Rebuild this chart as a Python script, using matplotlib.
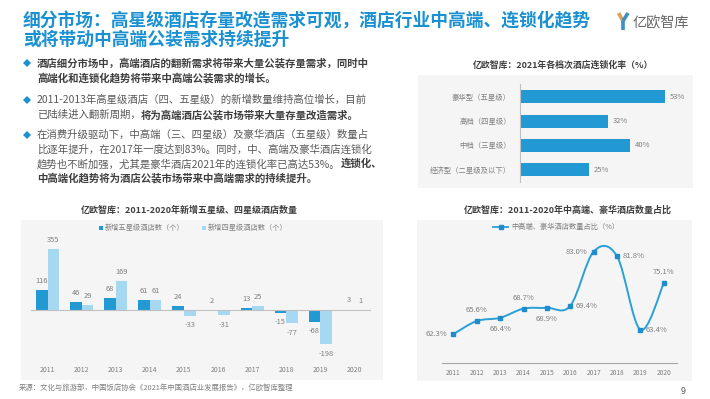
import matplotlib
matplotlib.use("Agg")
import matplotlib.pyplot as plt
import numpy as np
from matplotlib.path import Path
from matplotlib.patches import PathPatch, Rectangle

plt.rcParams['font.family'] = ['Noto Sans CJK SC', 'DejaVu Sans']

# ---------------- data ----------------
years = ['2011', '2012', '2013', '2014', '2015', '2016', '2017', '2018', '2019', '2020']
new_five_star = [116, 46, 68, 61, 24, 2, 13, -15, -68, 3]
new_four_star = [355, 29, 169, 61, -33, -31, 25, -77, -198, 1]
share_mid_high = [62.3, 65.6, 66.4, 68.7, 68.9, 69.4, 83.0, 81.8, 63.4, 75.1]
chain_categories = ['豪华型（五星级）', '高档（四星级）', '中档（三星级）', '经济型（二星级及以下）']
chain_rates = [53, 32, 40, 25]

title_lines = ['细分市场：高星级酒店存量改造需求可观，酒店行业中高端、连锁化趋势',
               '或将带动中高端公装需求持续提升']
bullets = [
    [[('酒店细分市场中，高端酒店的翻新需求将带来大量公装存量需求，同时中', True)],
     [('高端化和连锁化趋势将带来中高端公装需求的增长。', True)]],
    [[('2011-2013年高星级酒店（四、五星级）的新增数量维持高位增长，目前', False)],
     [('已陆续进入翻新周期，', False), ('将为高端酒店公装市场带来大量存量改造需求。', True)]],
    [[('在消费升级驱动下，中高端（三、四星级）及豪华酒店（五星级）数量占', False)],
     [('比逐年提升，在2017年一度达到83%。同时，中、高端及豪华酒店连锁化', False)],
     [('趋势也不断加强，尤其是豪华酒店2021年的连锁化率已高达53%。', False), ('连锁化、', True)],
     [('中高端化趋势将为酒店公装市场带来中高端需求的持续提升。', True)]],
]
chart1_title = '亿欧智库：2021年各档次酒店连锁化率（%）'
chart2_title = '亿欧智库：2011-2020年新增五星级、四星级酒店数量'
chart3_title = '亿欧智库：2011-2020年中高端、豪华酒店数量占比'
legend2 = ['新增五星级酒店数（个）', '新增四星级酒店数（个）']
legend3 = '中高端、豪华酒店数量占比（%）'
source_text = '来源：文化与旅游部，中国饭店协会《2021年中国酒店业发展报告》，亿欧智库整理'
logo_text = '亿欧智库'
page_no = '9'

# ---------------- styles ----------------
W, H = 710, 399
BLUE = '#1c91d2'
DARK_BAR = '#2399d4'
LIGHT_BAR = '#a7d8f1'
GRAY_TXT = '#7f7f7f'
BODY = '#595959'
BOLD = '#3f3f3f'
PANEL = '#f5f5f5'

fig = plt.figure(figsize=(W / 100, H / 100), dpi=100)
fig.patch.set_facecolor('white')

# overlay axes in pixel coordinates
ov = fig.add_axes([0, 0, 1, 1], zorder=-1)
ov.set_xlim(0, W)
ov.set_ylim(H, 0)
ov.axis('off')


def px_axes(l, t, r, b):
    ax = fig.add_axes([l / W, 1 - b / H, (r - l) / W, (b - t) / H])
    ax.patch.set_alpha(0)
    return ax


# panels
for (l, t, r, b) in [(418, 75, 693, 188), (21, 220, 383, 380), (417, 220, 692, 381)]:
    ov.add_patch(Rectangle((l, t), r - l, b - t, facecolor=PANEL, edgecolor='none'))

# title
for i, line in enumerate(title_lines):
    ov.text(23, 21 + i * 19, line, fontsize=12.8, fontweight='bold', color=BLUE,
            ha='left', va='center')

# logo
ov.plot([618.5, 623], [13, 21], color='#d9a35e', lw=2.6, solid_capstyle='butt')
ov.plot([628, 623], [13, 21], color='#3f8fc6', lw=2.6, solid_capstyle='butt')
ov.plot([623, 623], [21, 30], color='#3f8fc6', lw=2.6, solid_capstyle='butt')
ov.text(633, 22, logo_text, fontsize=10.2, fontweight='light', color='#666666',
        ha='left', va='center')

# bullets text
renderer = fig.canvas.get_renderer()
bullet_y = [[63, 78], [100, 115], [135, 150, 164, 178]]
for bl, ys in zip(bullets, bullet_y):
    ov.plot(27, ys[0], marker='D', markersize=4.2, color=BLUE, markeredgewidth=0)
    for parts, y in zip(bl, ys):
        cx = 37
        for txt, bold in parts:
            t = ov.text(cx, y, txt, fontsize=7.5, fontweight='bold' if bold else 'normal',
                        color=BOLD if bold else BODY, ha='left', va='center')
            bb = t.get_window_extent(renderer=renderer)
            cx += bb.width

# ---------------- chart 1: horizontal bars ----------------
ov.text(563.5, 65, chart1_title, fontsize=6.4, fontweight='bold', color=BOLD,
        ha='center', va='center')
ax1 = px_axes(520, 84, 690, 182)
ypos = np.arange(len(chain_categories))
ax1.barh(ypos, chain_rates, height=0.53, color=DARK_BAR)
ax1.set_xlim(0, 62)
ax1.set_ylim(3.5, -0.52)
ax1.set_yticks(ypos)
ax1.set_yticklabels(chain_categories, fontsize=5.3, color=GRAY_TXT)
ax1.tick_params(axis='y', length=0, pad=6.5)
ax1.set_xticks([])
for s in ['top', 'right', 'bottom']:
    ax1.spines[s].set_visible(False)
ax1.spines['left'].set_color('#bfbfbf')
ax1.spines['left'].set_linewidth(0.8)
for yv, v in zip(ypos, chain_rates):
    ax1.annotate(f'{v}%', (v, yv), xytext=(3.5, 0), textcoords='offset points',
                 fontsize=5.5, color=GRAY_TXT, ha='left', va='center')

# ---------------- chart 2: grouped bars ----------------
ov.text(189.7, 210, chart2_title, fontsize=6.5, fontweight='bold', color=BOLD,
        ha='center', va='center')
ov.add_patch(Rectangle((99, 226), 4, 4, facecolor=DARK_BAR, edgecolor='none'))
ov.text(105, 228, legend2[0], fontsize=5.2, color=GRAY_TXT, ha='left', va='center')
ov.add_patch(Rectangle((201.5, 226), 4, 4, facecolor=LIGHT_BAR, edgecolor='none'))
ov.text(207.5, 228, legend2[1], fontsize=5.2, color=GRAY_TXT, ha='left', va='center')

ax2 = px_axes(30.6, 241.4, 371.4, 361.5)
x = np.arange(len(years))
bw = 0.34
ax2.bar(x - bw / 2, new_five_star, width=bw, color=DARK_BAR)
ax2.bar(x + bw / 2, new_four_star, width=bw, color=LIGHT_BAR)
ax2.axhline(0, color='#bfbfbf', lw=0.8)
ax2.set_xlim(-0.5, 9.5)
ax2.set_ylim(-300, 400)
ax2.set_xticks(x)
ax2.set_xticklabels(years, fontsize=5.0, color=GRAY_TXT)
ax2.tick_params(axis='x', length=0, pad=3.5)
ax2.set_yticks([])
for s in ax2.spines.values():
    s.set_visible(False)
for xi, a, b in zip(x, new_five_star, new_four_star):
    for xx, v in [(xi - bw / 2, a), (xi + bw / 2, b)]:
        off = 6.5 if v >= 0 else -7
        ax2.annotate(str(v), (xx, v), xytext=(0, off), textcoords='offset points',
                     fontsize=5.4, color=GRAY_TXT, ha='center', va='center')

# ---------------- chart 3: smooth line ----------------
ov.text(568, 210, chart3_title, fontsize=6.5, fontweight='bold', color=BOLD,
        ha='center', va='center')
LINE = '#2aa0d6'
MARK = '#1f8dcc'
ov.plot([493, 508], [227, 227], color=LINE, lw=1.3)
ov.plot([500.5], [227], marker='s', markersize=3.2, color=MARK)
ov.text(511, 227, legend3, fontsize=5.2, color=GRAY_TXT, ha='left', va='center')

ax3 = px_axes(441.7, 240, 676.7, 363.3)
n = len(share_mid_high)
pts = np.column_stack([np.arange(n), share_mid_high]).astype(float)
verts = [pts[0]]
codes = [Path.MOVETO]
for i in range(n - 1):
    p0 = pts[i - 1] if i > 0 else pts[i]
    p1 = pts[i]
    p2 = pts[i + 1]
    p3 = pts[i + 2] if i + 2 < n else pts[i + 1]
    verts += [p1 + (p2 - p0) / 6, p2 - (p3 - p1) / 6, p2]
    codes += [Path.CURVE4] * 3
ax3.add_patch(PathPatch(Path(verts, codes), facecolor='none', edgecolor=LINE, lw=1.4))
ax3.plot(np.arange(n), share_mid_high, linestyle='none', marker='s', markersize=3.3, color=MARK)
ax3.set_xlim(-0.5, 9.55)
ax3.set_ylim(55, 85.9)
ax3.set_xticks(np.arange(n))
ax3.set_xticklabels(years, fontsize=4.8, color=GRAY_TXT)
ax3.tick_params(axis='x', length=0, pad=4)
ax3.set_yticks([])
for s in ['top', 'right', 'left']:
    ax3.spines[s].set_visible(False)
ax3.spines['bottom'].set_color('#a6a6a6')
ax3.spines['bottom'].set_linewidth(0.8)
place = ['left', 'above', 'below', 'above', 'below', 'right', 'left', 'right', 'right', 'above']
for i, (v, p) in enumerate(zip(share_mid_high, place)):
    if p == 'left':
        xt, yt, ha = (-4.5, 0, 'right')
    elif p == 'right':
        xt, yt, ha = (4, 0, 'left')
    elif p == 'above':
        xt, yt, ha = (0, 8, 'center')
    else:
        xt, yt, ha = (0, -8, 'center')
    ax3.annotate(f'{v:.1f}%', (i, v), xytext=(xt, yt), textcoords='offset points',
                 fontsize=5.5, color=GRAY_TXT, ha=ha, va='center')

# footer
ov.text(19, 388, source_text, fontsize=5.3, color=GRAY_TXT, ha='left', va='center')
ov.text(683, 391, page_no, fontsize=6.5, color='#595959', ha='center', va='center')

fig.savefig('out.png', dpi=100, facecolor='white')
